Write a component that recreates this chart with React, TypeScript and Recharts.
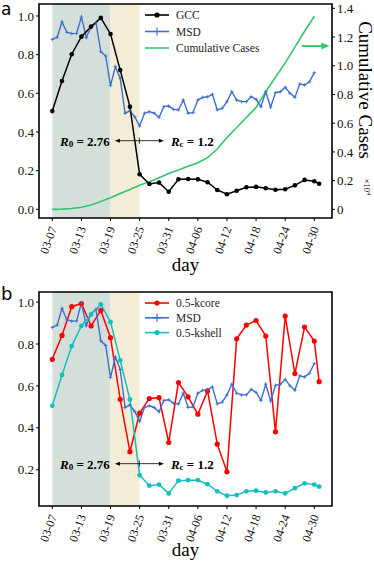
import React from 'react';
import { LineChart, Line, XAxis, YAxis, ReferenceArea, ReferenceLine, Legend, Label } from 'recharts';

// x axis: days since 03-07
const tickDays = [0, 6, 12, 18, 24, 30, 36, 42, 48, 54];
const tickLabels = ['03-07', '03-13', '03-19', '03-25', '03-31', '04-06', '04-12', '04-18', '04-24', '04-30'];

// series sampled every 2 days (+ one extra point at the end)
const sampleDays = [0, 2, 4, 6, 8, 10, 12, 14, 16, 18, 20, 22, 24, 26, 28, 30, 32, 34, 36, 38, 40, 42, 44, 46, 48, 50, 52, 54, 55];
const gccValues = [0.508, 0.664, 0.802, 0.893, 0.945, 0.99, 0.907, 0.72, 0.531, 0.181, 0.131, 0.138, 0.091, 0.155, 0.157, 0.155, 0.14, 0.1, 0.078, 0.096, 0.114, 0.116, 0.109, 0.101, 0.104, 0.124, 0.152, 0.145, 0.132];
const kcoreValues = [0.727, 0.841, 0.978, 0.993, 0.886, 0.96, 0.83, 0.536, 0.286, 0.47, 0.54, 0.544, 0.33, 0.616, 0.548, 0.465, 0.576, 0.322, 0.19, 0.825, 0.89, 0.912, 0.838, 0.381, 0.933, 0.659, 0.881, 0.814, 0.62];
const kshellValues = [0.505, 0.652, 0.79, 0.886, 0.941, 0.989, 0.905, 0.722, 0.535, 0.174, 0.124, 0.129, 0.087, 0.148, 0.15, 0.15, 0.131, 0.097, 0.076, 0.079, 0.097, 0.1, 0.092, 0.097, 0.087, 0.112, 0.135, 0.129, 0.119];

// MSD, one value per day from day 0
const msdValues = [
  0.879, 0.89, 0.969, 0.916, 0.909, 0.91, 0.995, 0.888, 0.945, 0.965,
  0.815, 0.793, 0.64, 0.738, 0.678, 0.497, 0.509, 0.478, 0.431, 0.497,
  0.505, 0.497, 0.476, 0.531, 0.534, 0.517, 0.514, 0.565, 0.497, 0.5,
  0.565, 0.579, 0.582, 0.595, 0.514, 0.522, 0.557, 0.608, 0.565, 0.557,
  0.557, 0.583, 0.569, 0.531, 0.608, 0.528, 0.603, 0.608, 0.631, 0.6,
  0.579, 0.648, 0.643, 0.66, 0.707,
];

// cumulative cases (x10^4), every 2 days
const caseDays = [0, 2, 4, 6, 8, 10, 12, 14, 16, 18, 20, 22, 24, 26, 28, 30, 32, 34, 36, 38, 40, 42, 44, 46, 48, 50, 52, 54];
const caseValues = [0, 0.002, 0.006, 0.015, 0.03, 0.055, 0.081, 0.11, 0.138, 0.168, 0.192, 0.22, 0.25, 0.275, 0.3, 0.325, 0.36, 0.42, 0.5, 0.57, 0.64, 0.71, 0.82, 0.92, 1.02, 1.13, 1.24, 1.345];

const leftTicksA = [0, 0.2, 0.4, 0.6, 0.8, 1.0];
const rightTicksA = [0, 0.2, 0.4, 0.6, 0.8, 1.0, 1.2, 1.4];
const leftTicksB = [0.2, 0.4, 0.6, 0.8, 1.0];

const X_DOMAIN: [number, number] = [-2.74, 57.65];
const YA_DOMAIN: [number, number] = [-0.045, 1.062];
const YA_RIGHT_DOMAIN: [number, number] = [-0.06, 1.43];
const YB_DOMAIN: [number, number] = [0.027, 1.048];

const SERIF = '"Liberation Serif", "Times New Roman", serif';
const GREYGREEN = '#d5dfda';
const TAN = '#f3ecd6';
const GREEN = '#33c46c';
const BLUE = '#3d6fd1';
const RED = '#ff0000';
const CYAN = '#12bfbf';

const toRows = (days: number[], vals: number[]) => days.map((day, i) => ({ day, value: vals[i] }));
const gccData = toRows(sampleDays, gccValues);
const kcoreData = toRows(sampleDays, kcoreValues);
const kshellData = toRows(sampleDays, kshellValues);
const msdData = msdValues.map((value, day) => ({ day, value }));
const caseData = toRows(caseDays, caseValues);

const DateTick = (props: any) => {
  const { x, y, payload } = props;
  const label = tickLabels[tickDays.indexOf(payload.value)];
  const ax = x + 1;
  const ay = y + 4;
  return (
    <text x={ax} y={ay} transform={`rotate(-70 ${ax} ${ay})`} textAnchor="end" dominantBaseline="central"
      fontSize={12} fontFamily={SERIF} fill="#111">
      {label}
    </text>
  );
};

const PlusDot = (props: any) => {
  const { cx, cy, index } = props;
  if (cx == null || cy == null) return <g key={index} />;
  return <path key={index} d={`M${cx - 1.8},${cy}h3.6M${cx},${cy - 1.8}v3.6`} stroke={BLUE} strokeWidth={0.8} />;
};

const dayLabel = (offset: number) => (props: any) => {
  const vb = props.viewBox;
  return (
    <text x={vb.x + vb.width / 2} y={vb.y + offset} textAnchor="middle" dominantBaseline="central"
      fontSize={19} fontFamily={SERIF} fill="#000">day</text>
  );
};

const casesLabel = (props: any) => {
  const vb = props.viewBox;
  const cx = vb.x + 33;
  const cy = vb.y + 86;
  const sx = vb.x + 35;
  const sy = vb.y + 183;
  return (
    <g>
      <text x={cx} y={cy} transform={`rotate(90 ${cx} ${cy})`} textAnchor="middle" dominantBaseline="central"
        fontSize={19} fontFamily={SERIF} fill="#000">Cumulative Cases</text>
      <text x={sx} y={sy} transform={`rotate(90 ${sx} ${sy})`} textAnchor="middle" dominantBaseline="central"
        fontSize={8.5} fontFamily={SERIF} fill="#000">×10<tspan dy={-3} fontSize={6.5}>4</tspan></text>
    </g>
  );
};

const ReproArrows = (props: any) => {
  const { x1, y1, x2 } = props;
  const mid = (x1 + x2) / 2;
  return (
    <g>
      <line x1={x1 + 3} y1={y1} x2={x2 - 3} y2={y1} stroke="#000" strokeWidth={0.8} />
      <polygon points={`${x1},${y1} ${x1 + 5},${y1 - 2} ${x1 + 5},${y1 + 2}`} fill="#000" />
      <polygon points={`${x2},${y1} ${x2 - 5},${y1 - 2} ${x2 - 5},${y1 + 2}`} fill="#000" />
      <line x1={mid} y1={y1 - 3} x2={mid} y2={y1 + 3} stroke="#000" strokeWidth={0.8} />
      <text x={x1 - 5} y={y1} textAnchor="end" dominantBaseline="central" fontSize={13} fontFamily={SERIF}
        fontWeight="bold" fill="#000">
        <tspan fontStyle="italic">R</tspan><tspan fontSize={9} dy={3}>0</tspan><tspan dy={-3}> = 2.76</tspan>
      </text>
      <text x={x2 + 7} y={y1} textAnchor="start" dominantBaseline="central" fontSize={13} fontFamily={SERIF}
        fontWeight="bold" fill="#000">
        <tspan fontStyle="italic">R</tspan><tspan fontSize={9} dy={3}>c</tspan><tspan dy={-3}> = 1.2</tspan>
      </text>
    </g>
  );
};

const GreenArrow = (props: any) => {
  const { x1, y1, x2 } = props;
  return (
    <g>
      <line x1={x1} y1={y1} x2={x2 - 6} y2={y1} stroke={GREEN} strokeWidth={1.8} />
      <polygon points={`${x2},${y1} ${x2 - 8},${y1 - 3.5} ${x2 - 8},${y1 + 3.5}`} fill={GREEN} />
    </g>
  );
};

type LegendItem = { label: string; color: string; marker: 'dot' | 'plus' | 'none' };

const makeLegend = (items: LegendItem[], rowGap: number) => () => (
  <svg width={150} height={rowGap * items.length + 6} style={{ display: 'block' }}>
    {items.map((it, i) => {
      const y = 9 + i * rowGap;
      return (
        <g key={it.label}>
          <line x1={7} y1={y} x2={31} y2={y} stroke={it.color} strokeWidth={1.6} />
          {it.marker === 'dot' && <circle cx={19} cy={y} r={2.6} fill={it.color} />}
          {it.marker === 'plus' && <path d={`M${15},${y}h8M19,${y - 4}v8`} stroke={it.color} strokeWidth={1.2} />}
          <text x={38} y={y} dominantBaseline="central" fontSize={11.5} fontFamily={SERIF} fill="#222">{it.label}</text>
        </g>
      );
    })}
  </svg>
);

const legendA = makeLegend([
  { label: 'GCC', color: '#000', marker: 'dot' },
  { label: 'MSD', color: BLUE, marker: 'plus' },
  { label: 'Cumulative Cases', color: GREEN, marker: 'none' },
], 16.5);

const legendB = makeLegend([
  { label: '0.5-kcore', color: RED, marker: 'dot' },
  { label: 'MSD', color: BLUE, marker: 'plus' },
  { label: '0.5-kshell', color: CYAN, marker: 'dot' },
], 14.8);

const tickStyle = { fontSize: 13, fontFamily: SERIF, fill: '#111' };
const fmt1 = (v: number) => v.toFixed(1);

export default function App() {
  return (
    <div style={{ position: 'absolute', left: 0, top: 0, width: 374, height: 561, background: '#fff' }}>
      <div style={{ position: 'absolute', left: 0, top: 0 }}>
        <LineChart width={374} height={280} margin={{ top: 4, right: 0, bottom: 0, left: 0 }}>
          <XAxis type="number" dataKey="day" domain={X_DOMAIN} allowDataOverflow ticks={tickDays} interval={0}
            tick={<DateTick />} tickSize={3} axisLine={false} tickLine={{ stroke: '#000' }} height={62}>
            <Label content={dayLabel(46)} />
          </XAxis>
          <YAxis yAxisId="left" domain={YA_DOMAIN} allowDataOverflow ticks={leftTicksA} interval={0}
            tickFormatter={fmt1} tick={tickStyle} tickSize={3} axisLine={false} tickLine={{ stroke: '#000' }} width={39} />
          <YAxis yAxisId="right" orientation="right" domain={YA_RIGHT_DOMAIN} allowDataOverflow ticks={rightTicksA}
            interval={0} tickFormatter={(v: number) => (v === 0 ? '0' : v.toFixed(1))} tick={tickStyle} tickSize={3}
            axisLine={false} tickLine={{ stroke: '#000' }} width={42}>
            <Label content={casesLabel} />
          </YAxis>
          <ReferenceArea yAxisId="left" x1={0} x2={12} fill={GREYGREEN} fillOpacity={1} stroke="none" />
          <ReferenceArea yAxisId="left" x1={12} x2={18} fill={TAN} fillOpacity={1} stroke="none" />
          <Line yAxisId="right" data={caseData} dataKey="value" stroke={GREEN} strokeWidth={1.6} dot={false}
            isAnimationActive={false} />
          <Line yAxisId="left" data={msdData} dataKey="value" stroke={BLUE} strokeWidth={1.4} dot={<PlusDot />}
            isAnimationActive={false} />
          <Line yAxisId="left" data={gccData} dataKey="value" stroke="#000" strokeWidth={1.5}
            dot={{ r: 2.3, fill: '#000', stroke: '#000', strokeWidth: 0 }} isAnimationActive={false} />
          <ReferenceLine yAxisId="left" segment={[{ x: 12.9, y: 0.355 }, { x: 23, y: 0.355 }]} shape={ReproArrows} />
          <ReferenceLine yAxisId="right" segment={[{ x: 51.4, y: 1.137 }, { x: 57.1, y: 1.137 }]} shape={GreenArrow} />
          <ReferenceArea yAxisId="left" x1={X_DOMAIN[0]} x2={X_DOMAIN[1]} y1={YA_DOMAIN[0]} y2={YA_DOMAIN[1]}
            fill="none" stroke="#000" strokeWidth={1.6} ifOverflow="visible" />
          <Legend content={legendA} layout="vertical" align="center" verticalAlign="middle"
            wrapperStyle={{ left: 138, top: 6, width: 150 }} />
        </LineChart>
      </div>
      <div style={{ position: 'absolute', left: 0, top: 280 }}>
        <LineChart width={374} height={281} margin={{ top: 12, right: 42, bottom: 0, left: 0 }}>
          <XAxis type="number" dataKey="day" domain={X_DOMAIN} allowDataOverflow ticks={tickDays} interval={0}
            tick={<DateTick />} tickSize={3} axisLine={false} tickLine={{ stroke: '#000' }} height={55}>
            <Label content={dayLabel(43)} />
          </XAxis>
          <YAxis domain={YB_DOMAIN} allowDataOverflow ticks={leftTicksB} interval={0} tickFormatter={fmt1}
            tick={tickStyle} tickSize={3} axisLine={false} tickLine={{ stroke: '#000' }} width={39} />
          <ReferenceArea x1={0} x2={12} fill={GREYGREEN} fillOpacity={1} stroke="none" />
          <ReferenceArea x1={12} x2={18} fill={TAN} fillOpacity={1} stroke="none" />
          <Line data={kcoreData} dataKey="value" stroke={RED} strokeWidth={1.5}
            dot={{ r: 2.6, fill: RED, stroke: RED, strokeWidth: 0 }} isAnimationActive={false} />
          <Line data={msdData} dataKey="value" stroke={BLUE} strokeWidth={1.4} dot={<PlusDot />} isAnimationActive={false} />
          <Line data={kshellData} dataKey="value" stroke={CYAN} strokeWidth={1.5}
            dot={{ r: 2.4, fill: CYAN, stroke: CYAN, strokeWidth: 0 }} isAnimationActive={false} />
          <ReferenceLine segment={[{ x: 12.9, y: 0.229 }, { x: 23, y: 0.229 }]} shape={ReproArrows} />
          <ReferenceArea x1={X_DOMAIN[0]} x2={X_DOMAIN[1]} y1={YB_DOMAIN[0]} y2={YB_DOMAIN[1]}
            fill="none" stroke="#000" strokeWidth={1.6} ifOverflow="visible" />
          <Legend content={legendB} layout="vertical" align="center" verticalAlign="middle"
            wrapperStyle={{ left: 138, top: 14, width: 150 }} />
        </LineChart>
      </div>
      <svg width={374} height={561} style={{ position: 'absolute', left: 0, top: 0, pointerEvents: 'none' }}>
        <text x={1} y={15} fontSize={17} fontFamily='"DejaVu Sans", sans-serif' fill="#000">a</text>
        <text x={1} y={300} fontSize={18} fontFamily='"DejaVu Sans", sans-serif' fill="#000">b</text>
      </svg>
    </div>
  );
}
